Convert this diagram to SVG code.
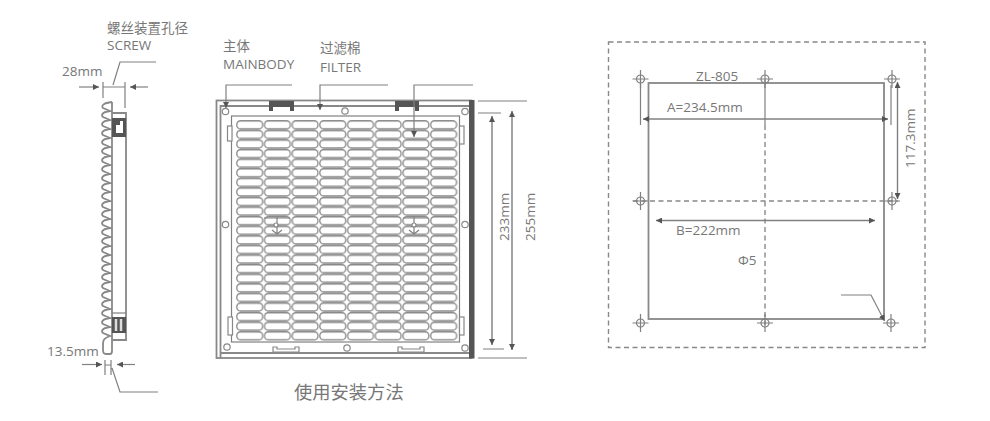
<svg xmlns="http://www.w3.org/2000/svg" width="990" height="421" viewBox="0 0 990 421">
<style>
text{font-family:"Open Sans","Noto Sans CJK SC",sans-serif;font-size:13.500px;fill:#777}
.l{fill:none;stroke:#808080;stroke-width:1.200}
.t{fill:none;stroke:#888;stroke-width:1.800}
.d{fill:none;stroke:#888;stroke-width:1.400;stroke-dasharray:5 3.500}
.dk{fill:#555;stroke:none}
.w{fill:#fff;stroke:#888;stroke-width:1.200}
.a{fill:none;stroke:#808080;stroke-width:1.200;marker-end:url(#ah)}
.a2{fill:none;stroke:#808080;stroke-width:1.400;marker-start:url(#ahs);marker-end:url(#ah)}
.bar{fill:none;stroke:#999;stroke-width:1.800;marker-start:url(#ahs);marker-end:url(#ah)}
</style>
<defs>
<marker id="ah" markerUnits="userSpaceOnUse" markerWidth="7" markerHeight="6" refX="6" refY="3" orient="auto"><path d="M0 0L6 3L0 6z" fill="#555"/></marker>
<marker id="ahs" markerUnits="userSpaceOnUse" markerWidth="7" markerHeight="6" refX="0" refY="3" orient="auto"><path d="M6 0L0 3L6 6z" fill="#555"/></marker>
<pattern id="slots" patternUnits="userSpaceOnUse" x="236" y="120.200" width="27.700" height="9.590">
<rect x="0.800" y="0.700" width="25.800" height="7.900" rx="3.600" fill="#fff" stroke="#888" stroke-width="1.300"/>
</pattern>
<g id="cross"><circle r="4" fill="none" stroke="#808080" stroke-width="1.200"/><path d="M-8 0H8M0 -9V9" stroke="#808080" stroke-width="1.200" fill="none"/></g>
</defs>
<rect width="990" height="421" fill="#fff"/>

<g id="side-view">
<path class="t" d="M112 102C103 103 101 106 103 108L110 111C102 112 101 115 103 117L110 120C102 121 101 124 103 126L110 129C102 130 101 133 103 135L110 138C102 139 101 142 103 144L110 147C102 148 101 151 103 153L110 156C102 157 101 160 103 162L110 165C102 166 101 169 103 171L110 174C102 175 101 178 103 180L110 183C102 184 101 187 103 189L110 192C102 193 101 196 103 198L110 201C102 202 101 205 103 207L110 210C102 211 101 214 103 216L110 219C102 220 101 223 103 225L110 228C102 229 101 232 103 234L110 237C102 238 101 241 103 243L110 246C102 247 101 250 103 252L110 255C102 256 101 259 103 261L110 264C102 265 101 268 103 270L110 273C102 274 101 277 103 279L110 282C102 283 101 286 103 288L110 291C102 292 101 295 103 297L110 300C102 301 101 304 103 306L110 309C102 310 101 313 103 315L110 318C102 319 101 322 103 324L110 327C102 328 101 331 103 333L110 336C104 338 103 340 103 344V350C103 353 104 354 106 354H110C111 354 112 353 112 351V102"/>
<path class="t" d="M112 113H126V340H112"/>
<rect class="dk" x="112" y="118" width="14" height="19"/>
<path d="M116 125H120V121H123V133H116z" fill="#fff"/>
<path class="l" d="M112 313H126"/>
<rect class="dk" x="112" y="317" width="14" height="16"/>
<path d="M116 319V331M121 319V331" stroke="#ddd" stroke-width="2.500" fill="none"/>
<path class="l" d="M103 82V98M125 82V108M103 87H125M113 85L120 62H156"/>
<path class="a" d="M79 87H99"/>
<path class="a" d="M148 87H130"/>
<path class="l" d="M105 360V375M111 360V375M105 365H111M112 368L120 392H158"/>
<path class="a" d="M82 364.500H102"/>
<path class="a" d="M135 364.500H117"/>
<text x="107" y="33">螺丝装置孔径</text>
<text x="107" y="50">SCREW</text>
<text x="62" y="76">28mm</text>
<text x="47" y="356">13.5mm</text>
</g>

<g id="main-view">
<rect x="216.500" y="100.500" width="255" height="257.500" class="t"/>
<path class="t" d="M220.500 358V106H469M220.500 353H469"/>
<rect x="231.500" y="116" width="228" height="226" class="l"/>
<rect x="236" y="120" width="221.600" height="220.600" fill="url(#slots)"/>
<rect class="dk" x="469" y="100" width="5.500" height="258.500"/>
<path class="dk" d="M269 101H294V111H290V107H273V111H269z"/>
<path class="dk" d="M395 101H419V111H415V107H399V111H395z"/>
<path class="w" d="M273 352V347H277V349H295V347H299V352z"/>
<path class="w" d="M398 352V347H402V349H420V347H424V352z"/>
<g class="w">
<circle cx="225.500" cy="111.500" r="3.200"/><circle cx="345" cy="111" r="3.200"/><circle cx="465" cy="111.500" r="3.200"/>
<circle cx="225.500" cy="224.500" r="3.200"/><circle cx="465" cy="224.500" r="3.200"/>
<circle cx="227" cy="347" r="3.200"/><circle cx="347" cy="348" r="3.200"/><circle cx="465" cy="348" r="3.200"/>
</g>
<g class="w">
<rect x="227.500" y="126" width="4.500" height="15"/><rect x="459.500" y="126" width="4.500" height="18"/>
<rect x="228" y="317" width="4.500" height="18"/><rect x="459.500" y="317" width="4.500" height="18"/>
</g>
<path class="l" d="M264 218H290M277 217V234M272 230L277 234L282 230M403 218H428M414 217V234M409 230L414 234L419 230"/>
<circle class="w" cx="276" cy="225" r="2"/><circle class="w" cx="414" cy="225" r="2"/>
<path class="a" d="M292 85H226V108"/>
<path class="a" d="M388 85H320V110"/>
<path class="a" d="M473 85H414V137"/>
<path class="l" d="M478 101H527M478 113H501M483 349H504M478 358H527"/>
<path class="bar" d="M492 116V345"/>
<path class="bar" d="M512 111V350"/>
<text x="223" y="51">主体</text>
<text x="223" y="69">MAINBODY</text>
<text x="320" y="53">过滤棉</text>
<text x="320" y="72">FILTER</text>
<text transform="translate(509 241) rotate(-90)">233mm</text>
<text transform="translate(535 241) rotate(-90)">255mm</text>
<text x="294" y="399" style="font-size:18.300px">使用安装方法</text>
</g>

<g id="mounting-template">
<rect x="608.500" y="42" width="316.500" height="305.500" class="d"/>
<rect x="648.500" y="83" width="235.500" height="236" class="t"/>
<path class="d" d="M633 201H898M765 125V325"/>
<path class="l" d="M765 80V125M640.500 79V125M891 85V125"/>
<use href="#cross" x="640.500" y="79"/><use href="#cross" x="765" y="79"/><use href="#cross" x="892" y="79"/>
<use href="#cross" x="640.500" y="201"/><use href="#cross" x="892" y="201"/>
<use href="#cross" x="640.500" y="323"/><use href="#cross" x="765" y="323"/><use href="#cross" x="891" y="323"/>
<path class="a2" d="M643 119H888"/>
<path class="a2" d="M656 220.500H875"/>
<path class="a2" d="M897.500 82V199"/>
<path class="a" d="M841 295H871L884.500 321"/>
<text x="696" y="81">ZL-805</text>
<text x="667" y="112">A=234.5mm</text>
<text x="676" y="235">B=222mm</text>
<text x="738" y="265">Φ5</text>
<text transform="translate(915 168) rotate(-90)">117.3mm</text>
</g>
</svg>
